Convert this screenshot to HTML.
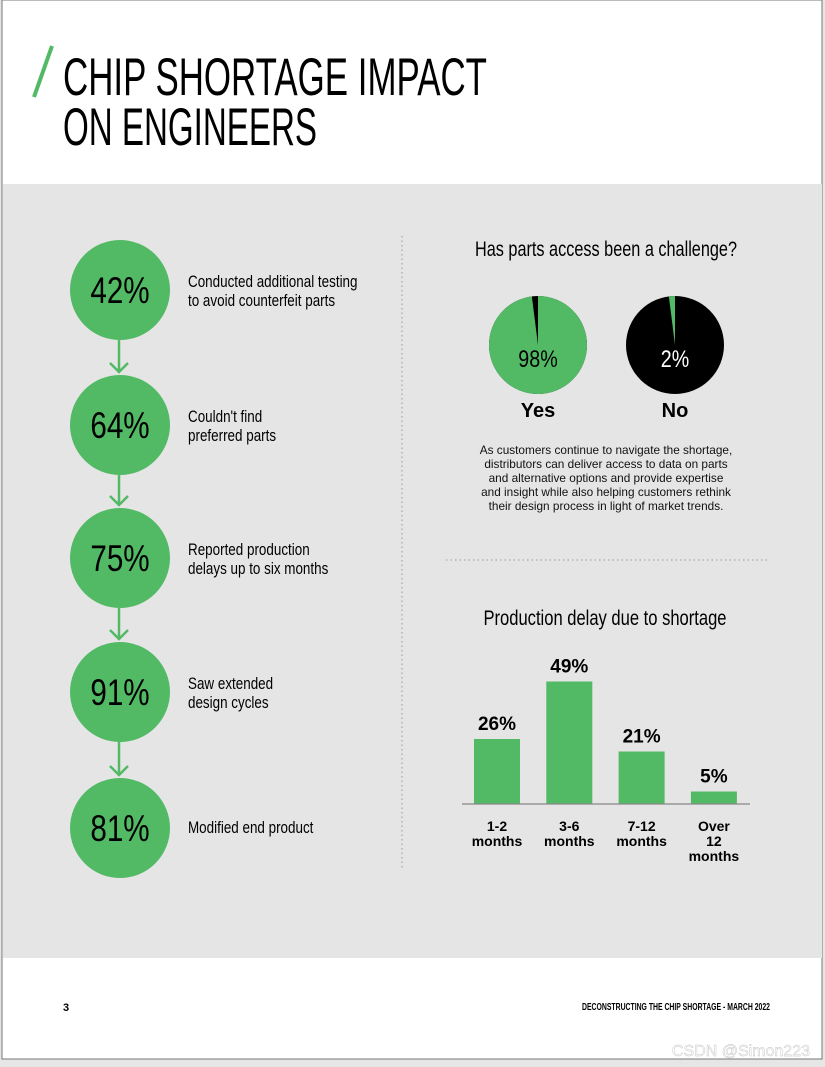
<!DOCTYPE html>
<html><head><meta charset="utf-8"><style>
html,body{margin:0;padding:0;background:#e8e8e8;}
svg{display:block;}
.n{font-family:"Liberation Sans Narrow","Liberation Sans",sans-serif;}
.s{font-family:"Liberation Sans",sans-serif;}
</style></head><body>
<svg id="page" width="825" height="1067" viewBox="0 0 825 1067" xmlns="http://www.w3.org/2000/svg">
<rect x="0" y="0" width="825" height="1067" fill="#e6e6e6"/>
<rect x="2" y="0" width="820" height="1059" fill="#ffffff" stroke="#777" stroke-width="1"/>
<rect x="3" y="184" width="819" height="774" fill="#e5e5e5"/>
<line x1="52" y1="46" x2="34" y2="97" stroke="#52b965" stroke-width="4"/>
<text class="n" x="63" y="95" font-size="53" textLength="424" lengthAdjust="spacingAndGlyphs" fill="#000">CHIP SHORTAGE IMPACT</text>
<text class="n" x="63" y="145" font-size="53" textLength="254" lengthAdjust="spacingAndGlyphs" fill="#000">ON ENGINEERS</text>
<line x1="402" y1="236" x2="402" y2="870" stroke="#999" stroke-width="1" stroke-dasharray="1.5,3"/>
<line x1="446" y1="560" x2="770" y2="560" stroke="#999" stroke-width="1" stroke-dasharray="1.5,3"/>
<g id="steps"></g>
<text class="n" x="606" y="256" font-size="21" text-anchor="middle" textLength="262" lengthAdjust="spacingAndGlyphs" fill="#000">Has parts access been a challenge?</text>
<g id="pies"></g>
<g class="s" font-size="11.8" fill="#111" text-anchor="middle">
<text x="606" y="454">As customers continue to navigate the shortage,</text>
<text x="606" y="468">distributors can deliver access to data on parts</text>
<text x="606" y="482">and alternative options and provide expertise</text>
<text x="606" y="496">and insight while also helping customers rethink</text>
<text x="606" y="510">their design process in light of market trends.</text>
</g>
<text class="n" x="605" y="625" font-size="21" text-anchor="middle" textLength="243" lengthAdjust="spacingAndGlyphs" fill="#000">Production delay due to shortage</text>
<g id="bars"></g>
<text class="s" x="63" y="1011" font-size="11" font-weight="bold" fill="#000">3</text>
<text class="n" x="770" y="1010" font-size="10" font-weight="bold" text-anchor="end" textLength="188" lengthAdjust="spacingAndGlyphs" fill="#000">DECONSTRUCTING THE CHIP SHORTAGE - MARCH 2022</text>
<text class="s" x="810" y="1056" font-size="16" text-anchor="end" fill="#ffffff" stroke="#bbb" stroke-width="0.4">CSDN @Simon223</text>
</svg>
<script>
var NS="http://www.w3.org/2000/svg";
function mk(tag,attrs,parent,txt){var e=document.createElementNS(NS,tag);for(var k in attrs)e.setAttribute(k,attrs[k]);if(txt!=null)e.textContent=txt;parent.appendChild(e);return e;}
function narrow(e,f){var w=e.getComputedTextLength();e.setAttribute('textLength',(w*f).toFixed(1));e.setAttribute('lengthAdjust','spacingAndGlyphs');}
var GREEN="#52b965";

// Steps
var stepValues=[42,64,75,91,81];
var stepLabels=[["Conducted additional testing","to avoid counterfeit parts"],["Couldn't find","preferred parts"],["Reported production","delays up to six months"],["Saw extended","design cycles"],["Modified end product"]];
var stepCY=[290,425,558,692,828];
var sg=document.getElementById('steps');
for(var i=0;i<stepValues.length;i++){
  var cy=stepCY[i];
  if(i<stepValues.length-1){
    var l=mk('path',{d:'M119 '+(cy+50)+' V'+(stepCY[i+1]-53)+' M110 '+(stepCY[i+1]-62)+' L119 '+(stepCY[i+1]-53)+' L128 '+(stepCY[i+1]-62),stroke:GREEN,'stroke-width':2.5,fill:'none'},sg);
    
    
  }
  var c=mk('circle',{cx:120,cy:cy,r:50,fill:GREEN},sg);
  
  
  var t=mk('text',{x:120,y:cy+13,'font-size':37,'text-anchor':'middle','class':'n',fill:'#000'},sg,stepValues[i]+'%');
  
  
  narrow(t,0.8);
  var lines=stepLabels[i];
  var y0=lines.length===1?cy+5:cy-3;
  for(var j=0;j<lines.length;j++){
    var lt=mk('text',{x:188,y:y0+j*19,'font-size':17,'class':'n',fill:'#000'},sg,lines[j]);
    
    
    narrow(lt,0.79);
  }
}

// Pies (green share per pie)
var pieLabels=["Yes","No"];
var pieValues=[98,2];
var pieCX=[538,675];
var pg=document.getElementById('pies');
function wedge(cx,cy,r,frac){
  var a=frac*2*Math.PI;var x=cx+r*Math.sin(a),y=cy-r*Math.cos(a);
  return 'M'+cx+' '+cy+' L'+cx+' '+(cy-r)+' A'+r+' '+r+' 0 '+(frac>0.5?1:0)+' 1 '+x+' '+y+' Z';
}
for(var p=0;p<pieValues.length;p++){
  var cx=pieCX[p],cy=345,r=49,f=pieValues[p]/100;
  var bgc=mk('circle',{cx:cx,cy:cy,r:r,fill:'#000'},pg);
  
  
  var rot=f<0.5?-f*360:0;
  var w=mk('path',{d:wedge(cx,cy,r,f),fill:GREEN,transform:'rotate('+rot+' '+cx+' '+cy+')'},pg);
  
  
  var pt=mk('text',{x:cx,y:cy+22,'font-size':24,'text-anchor':'middle','class':'n',fill:f>0.5?'#000':'#fff'},pg,pieValues[p]+'%');
  
  
  narrow(pt,0.82);
  var lb=mk('text',{x:cx,y:417,'font-size':20,'font-weight':'bold','text-anchor':'middle','class':'s',fill:'#000'},pg,pieLabels[p]);
  
  
}

// Bars
var barCategories=[["1-2","months"],["3-6","months"],["7-12","months"],["Over","12","months"]];
var barValues=[26,49,21,5];
var bg2=document.getElementById('bars');
var baseY=804,scale=2.5,x0=474,step=72.3,bw=46;
function yOf(v){return baseY-v*scale;}
for(var b=0;b<barValues.length;b++){
  var x=x0+b*step,v=barValues[b];
  var r2=mk('rect',{x:x,y:yOf(v),width:bw,height:baseY-yOf(v),fill:GREEN},bg2);
  
  
  var vt=mk('text',{x:x+bw/2,y:yOf(v)-9,'font-size':19,'font-weight':'bold','text-anchor':'middle','class':'s',fill:'#000'},bg2,v+'%');
  
  
  var cat=barCategories[b];
  for(var k=0;k<cat.length;k++){
    var ct=mk('text',{x:x+bw/2,y:831+k*15,'font-size':14,'font-weight':'bold','text-anchor':'middle','class':'s',fill:'#000'},bg2,cat[k]);
    
    
  }
}
var ax=mk('line',{x1:462,y1:baseY,x2:750,y2:baseY,stroke:'#888','stroke-width':1.2},bg2);


</script>
</body></html>
